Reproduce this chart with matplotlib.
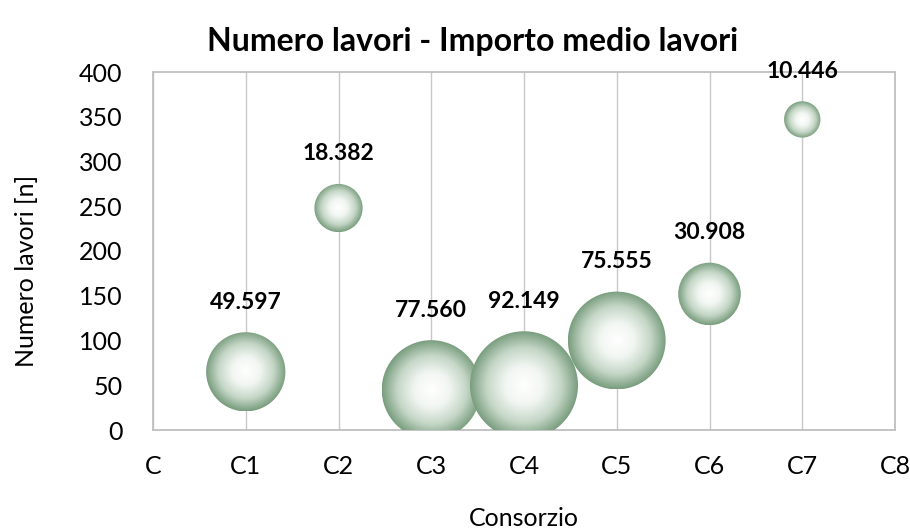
import numpy as np
import matplotlib
matplotlib.use("Agg")
import matplotlib.pyplot as plt
from matplotlib.patches import Ellipse
from matplotlib.colors import LinearSegmentedColormap

plt.rcParams['font.family'] = ['Lato', 'DejaVu Sans']

# ---- data ----
categories = ["C", "C1", "C2", "C3", "C4", "C5", "C6", "C7", "C8"]
bubble_x = [1, 2, 3, 4, 5, 6, 7]
numero_lavori = [65, 248, 45, 50, 100, 152, 347]
importo_medio = [49.597, 18.382, 77.560, 92.149, 75.555, 30.908, 10.446]
labels = ["49.597", "18.382", "77.560", "92.149", "75.555", "30.908", "10.446"]
yticks = [0, 50, 100, 150, 200, 250, 300, 350, 400]

W, H, DPI = 9.1, 5.28, 100
fig = plt.figure(figsize=(W, H), dpi=DPI)
ax = fig.add_axes([153/910, 98/528, 742/910, 358/528])
ax.set_xlim(0, 8)
ax.set_ylim(0, 400)

grid_c = "#C8C8C8"
for s in ax.spines.values():
    s.set_color("#BFBFBF")
    s.set_linewidth(1.3)
ax.set_xticks(range(len(categories)))
ax.set_xticklabels(categories)
ax.set_yticks(yticks)
ax.tick_params(length=0, labelsize=18, pad=18)
ax.tick_params(axis='y', pad=22)
ax.xaxis.grid(True, color=grid_c, linewidth=1.0)
ax.set_axisbelow(True)

fig.text(473/910, 1 - 41/528, "Numero lavori - Importo medio lavori", fontsize=23,
         fontweight='bold', ha='center', va='center')
fig.text(524/910, 1 - 518/528, "Consorzio", fontsize=18, ha='center', va='center')
fig.text(27/910, 1 - 271/528, "Numero lavori [n]", fontsize=18, ha='center', va='center',
         rotation=90)

# pixel scales
ax_w_px = 742.0
ax_h_px = 358.0
px_per_x = ax_w_px / 8.0
px_per_y = ax_h_px / 400.0
max_r_px = 54.0
k = max_r_px / np.sqrt(max(importo_medio))

cmap = LinearSegmentedColormap.from_list(
    "bub", [(0.0, "#FFFFFF"), (0.35, "#F2F6F2"), (0.7, "#C4D6C6"), (1.0, "#7A9E7F")])
n = 200
gx, gy = np.meshgrid(np.linspace(-1, 1, n), np.linspace(-1, 1, n))
rr = np.clip(np.sqrt(gx**2 + (gy)**2), 0, 1)
grad = cmap(rr)

for x, y, v, lab in zip(bubble_x, numero_lavori, importo_medio, labels):
    r = k * np.sqrt(v)
    wx = r / px_per_x
    hy = r / px_per_y
    ell = Ellipse((x, y), 2*wx, 2*hy, facecolor='none', edgecolor='none', zorder=3)
    ax.add_patch(ell)
    im = ax.imshow(grad, extent=(x - wx, x + wx, y - hy, y + hy), origin='lower',
                   zorder=3, interpolation='bilinear', aspect='auto')
    im.set_clip_path(ell)
    ax.annotate(lab, (x, y), xytext=(0, r + 30), textcoords='offset pixels',
                ha='center', va='center', fontsize=16.5, fontweight='bold',
                annotation_clip=False, zorder=5)

ax.set_xlim(0, 8)
ax.set_ylim(0, 400)
fig.savefig("out.png", dpi=DPI)
